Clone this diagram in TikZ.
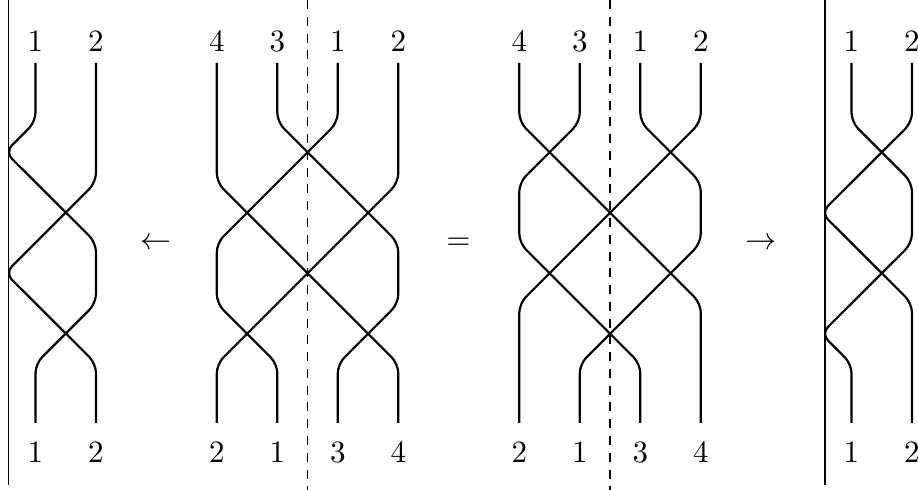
\documentclass[tikz,border=0pt]{standalone}
\begin{document}
\begin{tikzpicture}[x=0.322pt,y=-0.322pt,
  strand/.style={line width=0.7pt, rounded corners=3pt},
  wall/.style={line width=0.4pt},
  cut/.style={line width=0.4pt, dash pattern=on 2.9pt off 2.5pt},
  lbl/.style={inner sep=0pt, anchor=base, font=\fontsize{10}{12}\selectfont},
  sym/.style={inner sep=0pt, anchor=base, font=\fontsize{10}{12}\selectfont}]
\useasboundingbox (0,0) rectangle (918,490);

% walls and cuts
\draw[wall] (8.3,0) -- (8.3,485);
\draw[wall] (825,0) -- (825,485);
\draw[cut] (307.5,0) -- (307.5,490);
\draw[cut] (610,0) -- (610,490);

% ---------- panel 1 ----------
\foreach \n/\x/\t in {pAa/35.5/1, pAb/96/2}{
  \node[lbl] (\n t) at (\x,52) {\t};
  \node[lbl] (\n b) at (\x,463) {\t};
}
\draw[strand] (35.5,63) -- (35.5,121.75) -- (5.25,152) -- (96,242.75) -- (96,303.25) -- (35.5,363.75) -- (35.5,423);
\draw[strand] (96,63) -- (96,182.25) -- (5.25,273) -- (96,363.75) -- (96,423);

% ---------- panel 2 ----------
\def\a{216.8}\def\b{277.3}\def\c{337.8}\def\d{398.3}
\node[lbl] (pBt1) at (\a,52) {4};
\node[lbl] (pBt2) at (\b,52) {3};
\node[lbl] (pBt3) at (\c,52) {1};
\node[lbl] (pBt4) at (\d,52) {2};
\node[lbl] (pBb1) at (\a,463) {2};
\node[lbl] (pBb2) at (\b,463) {1};
\node[lbl] (pBb3) at (\c,463) {3};
\node[lbl] (pBb4) at (\d,463) {4};
\draw[strand] (\b,63) -- (\b,122) -- (\d,243) -- (\d,303.5) -- (\c,364) -- (\c,423);
\draw[strand] (\c,63) -- (\c,122) -- (\a,243) -- (\a,303.5) -- (\b,364) -- (\b,423);
\draw[strand] (\a,63) -- (\a,182.5) -- (\d,364) -- (\d,423);
\draw[strand] (\d,63) -- (\d,182.5) -- (\a,364) -- (\a,423);

% ---------- panel 3 ----------
\def\a{519.3}\def\b{579.8}\def\c{640.3}\def\d{700.8}
\node[lbl] (pCt1) at (\a,52) {4};
\node[lbl] (pCt2) at (\b,52) {3};
\node[lbl] (pCt3) at (\c,52) {1};
\node[lbl] (pCt4) at (\d,52) {2};
\node[lbl] (pCb1) at (\a,463) {2};
\node[lbl] (pCb2) at (\b,463) {1};
\node[lbl] (pCb3) at (\c,463) {3};
\node[lbl] (pCb4) at (\d,463) {4};
\draw[strand] (\a,63) -- (\a,122) -- (\d,303.5) -- (\d,423);
\draw[strand] (\b,63) -- (\b,122) -- (\a,182.5) -- (\a,243) -- (\c,364) -- (\c,423);
\draw[strand] (\c,63) -- (\c,122) -- (\d,182.5) -- (\d,243) -- (\b,364) -- (\b,423);
\draw[strand] (\d,63) -- (\d,122) -- (\a,303.5) -- (\a,423);

% ---------- panel 4 ----------
\foreach \n/\x/\t in {pDa/851.5/1, pDb/912/2}{
  \node[lbl] (\n t) at (\x,52) {\t};
  \node[lbl] (\n b) at (\x,463) {\t};
}
\draw[strand] (851.5,63) -- (851.5,122) -- (912,182.5) -- (912,243) -- (821.25,333.75) -- (851.5,364) -- (851.5,423);
\draw[strand] (912,63) -- (912,122) -- (821.25,212.75) -- (912,303.5) -- (912,423);

% relation symbols
\node[sym] (larr) at (156.5,250) {$\leftarrow$};
\node[sym] (eq) at (458.5,250) {$=$};
\node[sym] (rarr) at (761,250) {$\rightarrow$};
\end{tikzpicture}
\end{document}
